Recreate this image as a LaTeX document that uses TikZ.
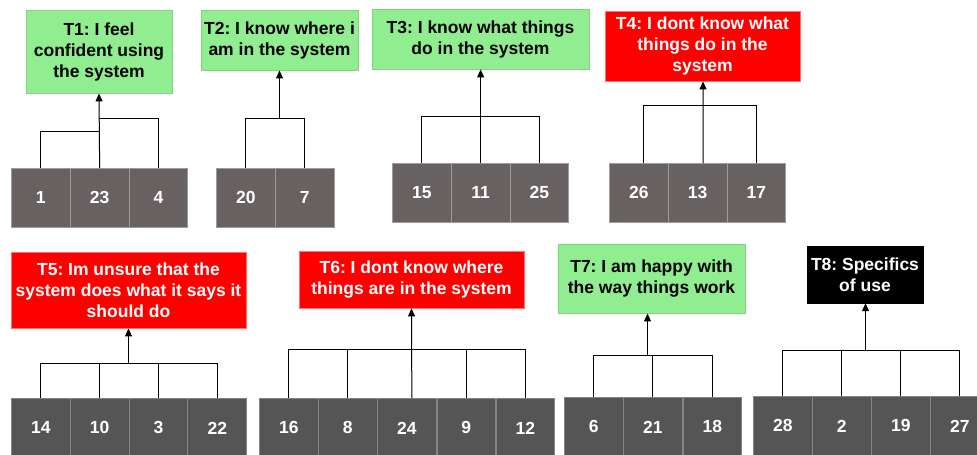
\documentclass[tikz,border=0pt]{standalone}
\usepackage{fontspec}
\setmainfont{Liberation Sans}
\usetikzlibrary{arrows.meta}
\definecolor{tgreen}{HTML}{90EE90}
\definecolor{tgreenline}{HTML}{82D282}
\definecolor{tred}{HTML}{FF0000}
\definecolor{tredline}{HTML}{FF7070}
\definecolor{cellA}{HTML}{686162}
\definecolor{cellAline}{HTML}{A09B9B}
\definecolor{cellB}{HTML}{555555}
\definecolor{cellBline}{HTML}{858585}
\frenchspacing
\begin{document}
\begin{tikzpicture}[x=1pt,y=-1pt,
  lbl/.style={align=center,inner sep=0pt,font=\bfseries\fontsize{17.5}{21}\selectfont},
  goodbox/.style={lbl,fill=tgreen,draw=tgreenline,line width=0.9pt,text=black},
  badbox/.style={lbl,fill=tred,draw=tredline,line width=0.9pt,text=white},
  blackbox/.style={lbl,fill=black,draw=black,text=white},
  cellbase/.style={anchor=north west,minimum width=58.8pt,minimum height=59pt,inner sep=0pt,
    text=white,font=\bfseries\fontsize{17.5}{21}\selectfont,line width=0.9pt},
  cella/.style={cellbase,fill=cellA,draw=cellAline},
  cellb/.style={cellbase,fill=cellB,draw=cellBline},
  link/.style={draw=black,line width=1pt},
  arr/.style={link,-{Triangle[length=8pt,width=7pt]}}
]
\clip (0,0) rectangle (977,455);
\fill[white] (0,0) rectangle (977,455);

% ---------- T1 ----------
\node[goodbox,minimum width=146pt,minimum height=83pt] (T1) at (99,51.5) {T1: I feel\\confident using\\the system};
\node[cella] (c1) at (11,168) {1};
\node[cella] (c23) at (69.8,168) {23};
\node[cella] (c4) at (128.6,168) {4};
\coordinate (b1l) at (99.2,131.5);
\coordinate (b1r) at (99.2,118.5);
\draw[link] (c1.north) |- (b1l);
\draw[link] (c4.north) |- (b1r);
\draw[arr] (c23.north) -- (T1.south);

% ---------- T2 ----------
\node[goodbox,minimum width=157pt,minimum height=60pt] (T2) at (279.5,40) {T2: I know where i\\am in the system};
\node[cella] (c20) at (216,168) {20};
\node[cella] (c7) at (274.8,168) {7};
\coordinate (b2) at (279.5,118.5);
\draw[link] (c20.north) |- (b2) -| (c7.north);
\draw[arr] (b2) -- (T2.south -| b2);

% ---------- T3 ----------
\node[goodbox,minimum width=217pt,minimum height=60pt] (T3) at (480.5,39) {T3: I know what things\\do in the system};
\node[cella] (c15) at (392,163) {15};
\node[cella] (c11) at (450.8,163) {11};
\node[cella] (c25) at (509.6,163) {25};
\coordinate (b3) at (480.2,116.5);
\draw[link] (c15.north) |- (b3) -| (c25.north);
\draw[arr] (c11.north) -- (T3.south -| c11.north);

% ---------- T4 ----------
\node[badbox,minimum width=195pt,minimum height=70pt] (T4) at (702.5,46) {T4: I dont know what\\things do in the\\system};
\node[cella] (c26) at (609,163) {26};
\node[cella] (c13) at (667.8,163) {13};
\node[cella] (c17) at (726.6,163) {17};
\coordinate (b4) at (703,105.5);
\draw[link] ([xshift=5pt]c26.north) |- (b4) -| (c17.north);
\draw[arr] ([xshift=5.5pt]c13.north) -- (T4.south -| b4);

% ---------- T5 ----------
\node[badbox,minimum width=235pt,minimum height=76pt] (T5) at (128.5,290) {T5: Im unsure that the\\system does what it says it\\should do};
\node[cellb] (c14) at (11,398) {14};
\node[cellb] (c10) at (69.8,398) {10};
\node[cellb] (c3) at (128.6,398) {3};
\node[cellb] (c22) at (187.4,398) {22};
\coordinate (b5) at (128.5,363.5);
\draw[link] (c14.north) |- (b5) -| (c22.north);
\draw[link] (c10.north) |- (b5);
\draw[link] (c3.north) |- (b5);
\draw[arr] (b5) -- (T5.south -| b5);

% ---------- T6 ----------
\node[badbox,minimum width=225pt,minimum height=57pt] (T6) at (411.5,279.5) {T6: I dont know where\\things are in the system};
\node[cellb] (c16) at (259,398) {16};
\node[cellb] (c8) at (318,398) {8};
\node[cellb] (c24) at (377,398) {24};
\node[cellb] (c9) at (436.5,398) {9};
\node[cellb] (c12) at (495.5,398) {12};
\coordinate (b6) at (411.5,349.5);
\draw[link] (c16.north) |- (b6) -| (c12.north);
\draw[link] (c8.north) |- (b6);
\draw[link] (c9.north) |- (b6);
\draw[arr] ([xshift=5pt]c24.north) -- (T6.south -| b6);

% ---------- T7 ----------
\node[goodbox,minimum width=187pt,minimum height=69pt] (T7) at (651.5,278.5) {T7: I am happy with\\the way things work};
\node[cellb] (c6) at (564,397) {6};
\node[cellb] (c21) at (623,397) {21};
\node[cellb] (c18) at (682.5,397) {18};
\coordinate (b7) at (647.5,355.5);
\draw[link] (c6.north) |- (b7) -| (c18.north);
\draw[link] (c21.north) |- (b7);
\draw[arr] (b7) -- (T7.south -| b7);

% ---------- T8 ----------
\node[blackbox,minimum width=116pt,minimum height=57pt] (T8) at (865,274.5) {T8: Specifics\\of use};
\node[cellb] (c28) at (753,396) {28};
\node[cellb] (c2) at (812,396) {2};
\node[cellb] (c19) at (871,396) {19};
\node[cellb] (c27) at (930,396) {27};
\coordinate (b8) at (865.5,350.5);
\draw[link] (c28.north) |- (b8) -| (c27.north);
\draw[link] (c2.north) |- (b8);
\draw[link] (c19.north) |- (b8);
\draw[arr] (b8) -- (T8.south -| b8);
\end{tikzpicture}
\end{document}
